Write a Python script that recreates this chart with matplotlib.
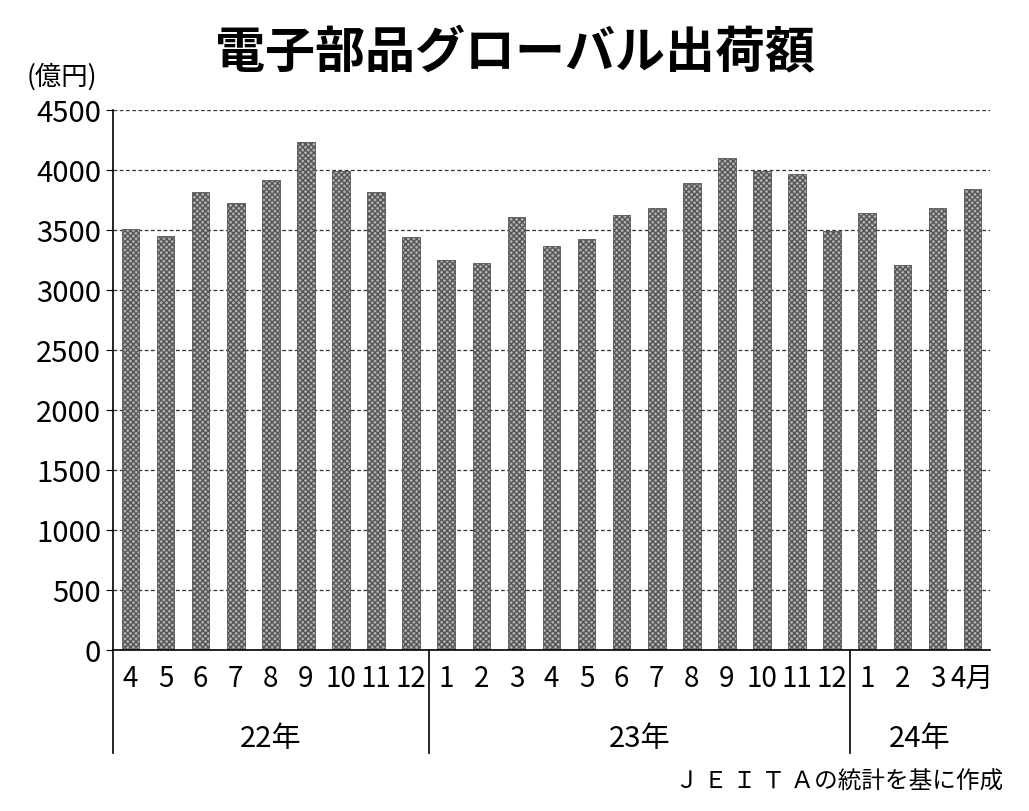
import matplotlib.pyplot as plt
import numpy as np

plt.rcParams['font.family'] = ['Noto Sans CJK JP', 'DejaVu Sans']

months = ['4', '5', '6', '7', '8', '9', '10', '11', '12',
          '1', '2', '3', '4', '5', '6', '7', '8', '9', '10', '11', '12',
          '1', '2', '3', '4月']
values = [3510, 3450, 3815, 3725, 3915, 4235, 3990, 3815, 3440,
          3250, 3225, 3605, 3365, 3425, 3625, 3685, 3890, 4100, 3990, 3965, 3490,
          3640, 3205, 3680, 3840]
years = ['22年', '23年', '24年']
year_spans = [(0, 8), (9, 20), (21, 24)]

fig = plt.figure(figsize=(10.29, 8.11), dpi=100)
ax = fig.add_axes([0.1098, 0.1985, 0.8523, 0.6658])

x = np.arange(len(values))
ax.bar(x, values, width=0.5, color='#b0b0b0', edgecolor='#555555',
       hatch='xxxxxx', linewidth=0.6, zorder=2)

ax.set_xlim(-0.5, len(values) - 0.5)
ax.set_ylim(0, 4500)
ax.set_yticks(np.arange(0, 4501, 500))
ax.yaxis.grid(True, linestyle=(0, (3, 2)), color='#333333', linewidth=0.9, zorder=0)
for s in ['top', 'right']:
    ax.spines[s].set_visible(False)
ax.spines['left'].set_linewidth(1.2)
ax.spines['bottom'].set_linewidth(1.2)
ax.set_xticks(x)
ax.set_xticklabels(months)
ax.tick_params(axis='x', length=0, labelsize=20, pad=10)
ax.tick_params(axis='y', length=5, labelsize=21)

trans = ax.get_xaxis_transform()
for xd in [-0.5, 8.5, 20.5]:
    ax.plot([xd, xd], [0, -0.19], transform=trans, color='black',
            linewidth=1.2, clip_on=False)
for name, (a, b) in zip(years, year_spans):
    ax.text((a + b) / 2, -0.165, name, transform=trans, ha='center',
            va='center', fontsize=21)

fig.text(0.5, 0.935, '電子部品グローバル出荷額', ha='center', va='center',
         fontsize=36, fontweight='bold')
fig.text(0.06, 0.905, '(億円)', ha='center', va='center', fontsize=19)
fig.text(0.975, 0.035, 'Ｊ Ｅ Ｉ Ｔ Ａの統計を基に作成', ha='right', va='center',
         fontsize=17)

fig.savefig('out.png', dpi=100)
